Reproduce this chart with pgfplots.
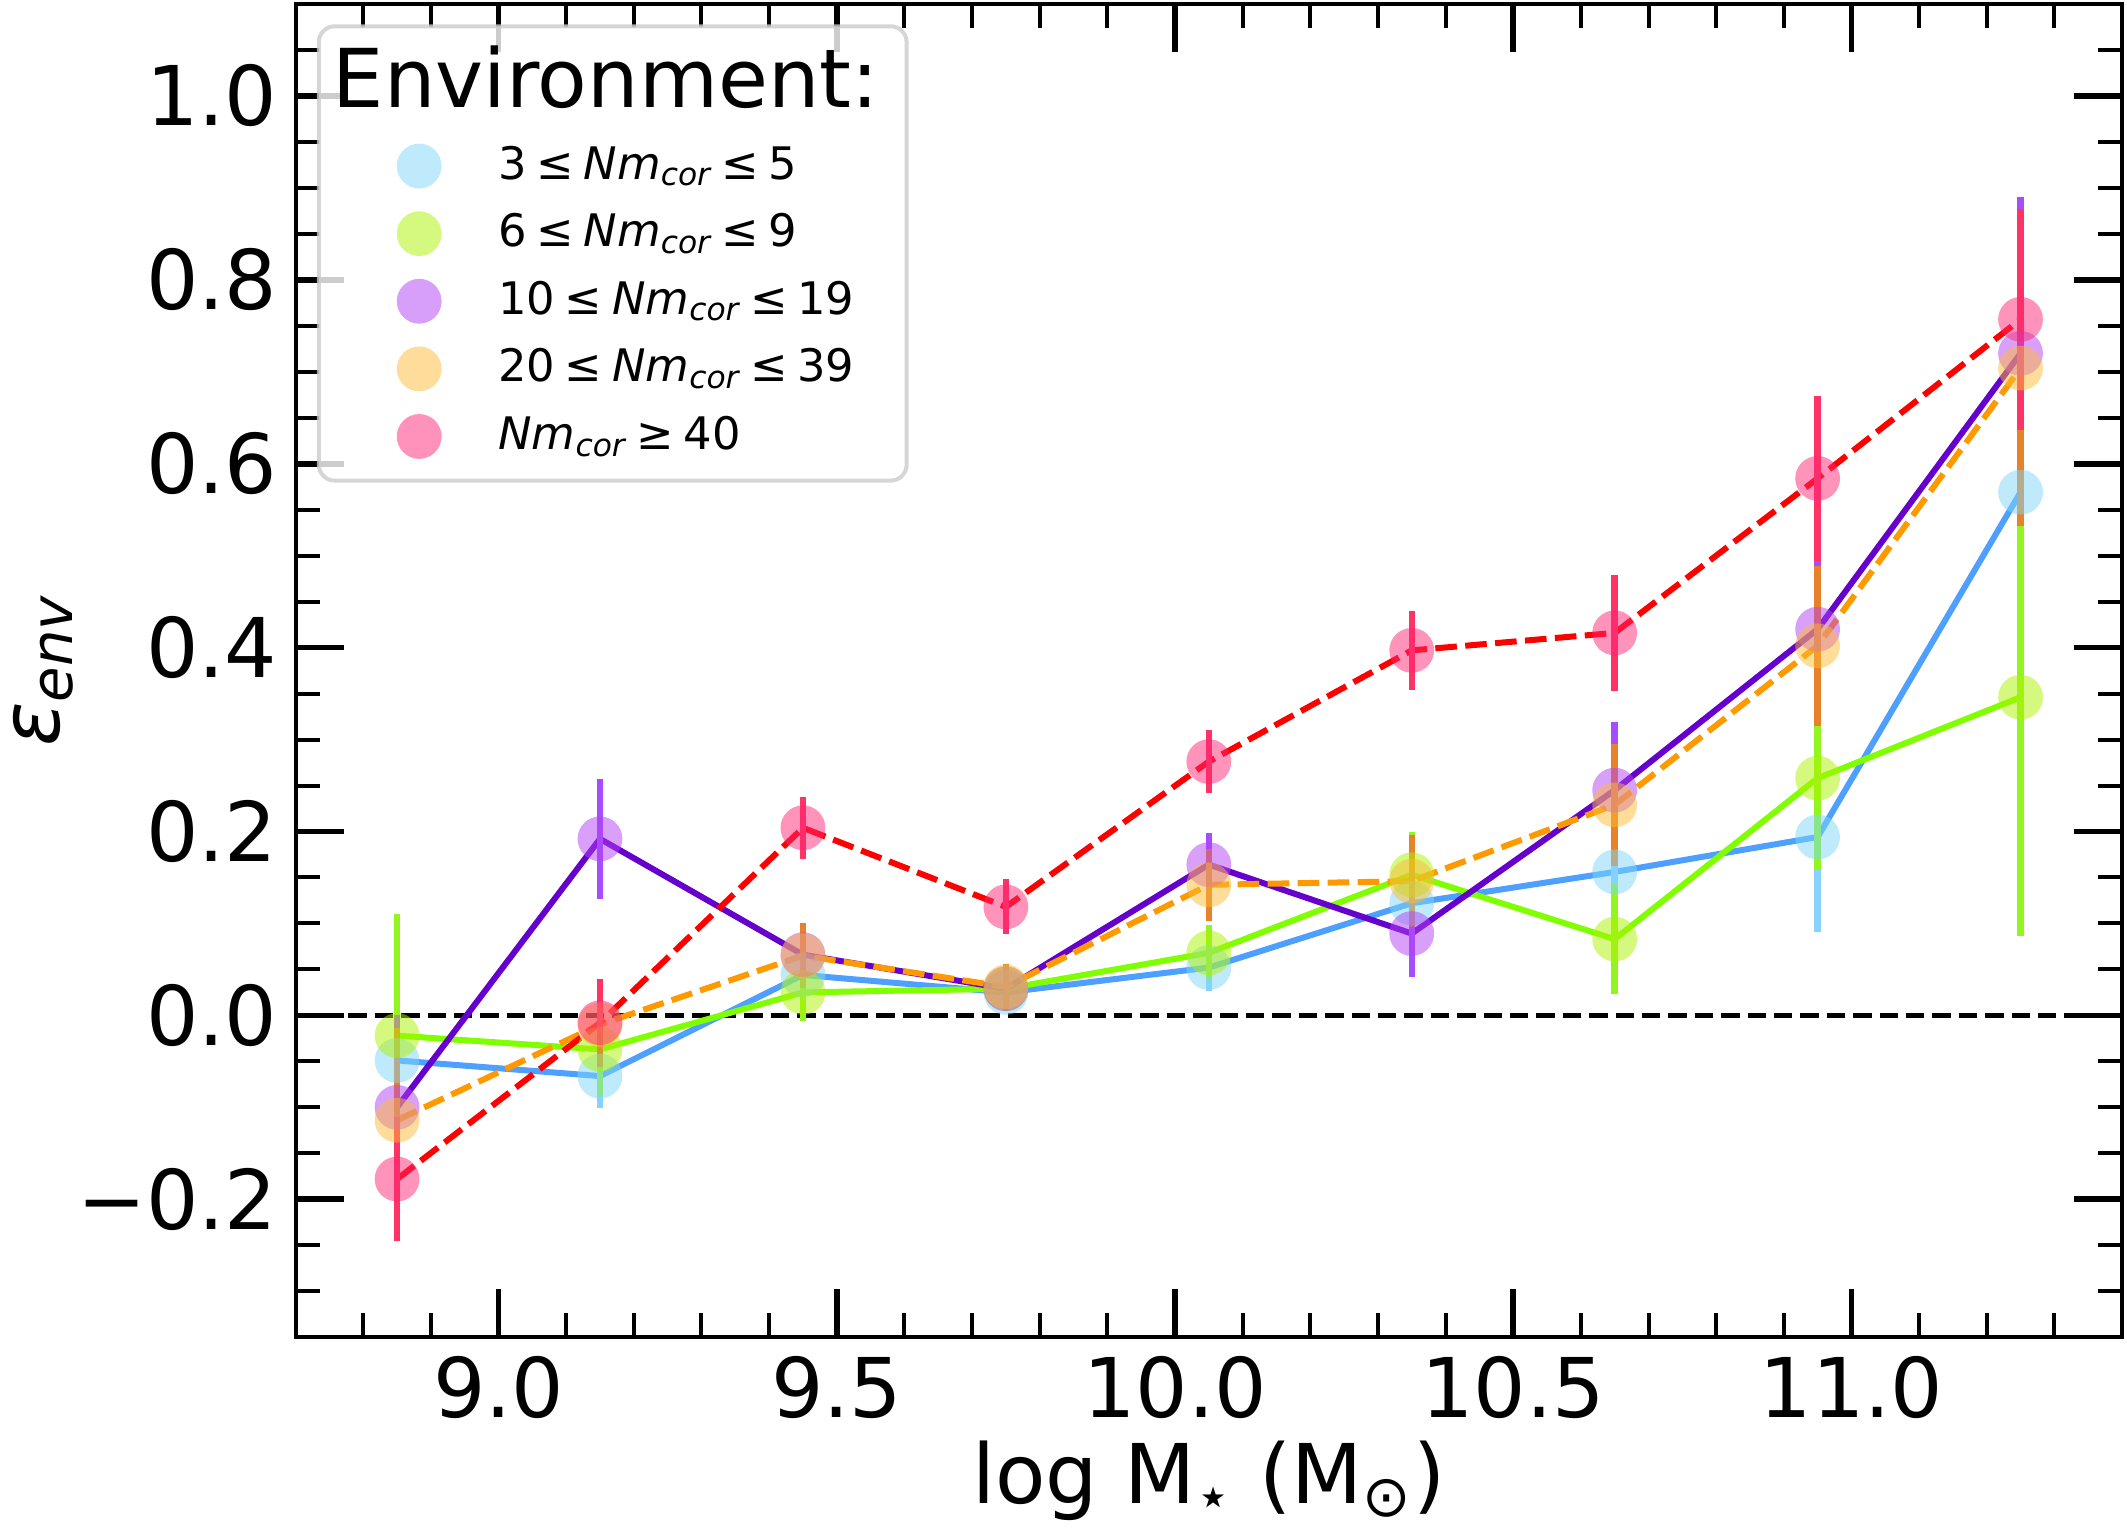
\documentclass[border=0pt]{standalone}
\usepackage{fontspec}
\setmainfont{DejaVu Sans}
\usepackage{pgfplots}
\pgfplotsset{compat=1.18}
\usepackage{pgfplotstable}

\definecolor{blueL}{HTML}{4DA0FF}
\definecolor{blueE}{HTML}{87D3FF}
\definecolor{blueM}{HTML}{7FD6F8}
\definecolor{greenL}{HTML}{80FF00}
\definecolor{greenE}{HTML}{92F520}
\definecolor{greenM}{HTML}{ACF300}
\definecolor{purpL}{HTML}{6600CC}
\definecolor{purpE}{HTML}{A64DFF}
\definecolor{purpM}{HTML}{B342F5}
\definecolor{oranL}{HTML}{FF9900}
\definecolor{oranE}{HTML}{E8822A}
\definecolor{oranM}{HTML}{FDBB35}
\definecolor{redL}{HTML}{FF0000}
\definecolor{redE}{HTML}{FF3366}
\definecolor{redM}{HTML}{FF2775}

\pgfplotstableread{
x y e
8.85 -0.049 0.086
9.15 -0.066 0.035
9.45 0.044 0.030
9.75 0.025 0.020
10.05 0.052 0.025
10.35 0.122 0.040
10.65 0.156 0.050
10.95 0.194 0.103
11.25 0.569 0.150
}\tabA
\pgfplotstableread{
x y e
8.85 -0.022 0.132
9.15 -0.037 0.050
9.45 0.025 0.031
9.75 0.029 0.020
10.05 0.068 0.030
10.35 0.153 0.046
10.65 0.083 0.060
10.95 0.258 0.100
11.25 0.346 0.260
}\tabB
\pgfplotstableread{
x y e
8.85 -0.100 0.100
9.15 0.192 0.065
9.45 0.066 0.035
9.75 0.029 0.020
10.05 0.164 0.034
10.35 0.089 0.047
10.65 0.245 0.074
10.95 0.420 0.100
11.25 0.720 0.170
}\tabC
\pgfplotstableread{
x y e
8.85 -0.114 0.100
9.15 -0.010 0.040
9.45 0.065 0.035
9.75 0.031 0.025
10.05 0.142 0.039
10.35 0.146 0.050
10.65 0.229 0.066
10.95 0.402 0.087
11.25 0.704 0.172
}\tabD
\pgfplotstableread{
x y e
8.85 -0.178 0.067
9.15 -0.008 0.048
9.45 0.204 0.034
9.75 0.118 0.030
10.05 0.276 0.034
10.35 0.397 0.043
10.65 0.416 0.063
10.95 0.584 0.090
11.25 0.757 0.120
}\tabE

\newcommand{\bigf}{\fontsize{20.6}{24}\selectfont}
\newcommand{\rs}{\hspace{2.4pt}}
\newcommand{\Nm}{{\itshape Nm}\textsubscript{\itshape cor}}

\begin{document}
\begin{tikzpicture}
\useasboundingbox (-73.9pt,-47.7pt) rectangle (457.85pt,334.3pt);
\begin{axis}[
  name=ax,
  scale only axis, width=456.6pt, height=333.3pt,
  xmin=8.7, xmax=11.4, ymin=-0.35, ymax=1.1,
  axis line style={line width=1pt, black},
  xtick={9,9.5,10,10.5,11},
  xticklabels={9.0,9.5,10.0,10.5,11.0},
  ytick={-0.2,0,0.2,0.4,0.6,0.8,1.0},
  yticklabels={−0.2,0.0,0.2,0.4,0.6,0.8,1.0},
  minor xtick={8.8,8.9,9.1,9.2,9.3,9.4,9.6,9.7,9.8,9.9,10.1,10.2,10.3,10.4,10.6,10.7,10.8,10.9,11.1,11.2,11.3},
  minor ytick={-0.3,-0.25,-0.15,-0.1,-0.05,0.05,0.1,0.15,0.25,0.3,0.35,0.45,0.5,0.55,0.65,0.7,0.75,0.85,0.9,0.95,1.05},
  tick align=inside,
  xtick pos=both, ytick pos=both,
  major tick length=12pt, minor tick length=6pt,
  major tick style={line width=1.4pt, black},
  minor tick style={line width=1pt, black},
  xticklabel style={anchor=north, inner sep=0pt, yshift=-4.6pt, font=\bigf},
  yticklabel style={anchor=east, inner sep=0pt, xshift=-4.4pt, font=\bigf},
  every axis x label/.style={at={(axis description cs:0.5,0)}, anchor=base, yshift=-41.6pt, font=\bigf},
  every axis y label/.style={at={(axis description cs:-0.1290,0.5)}, anchor=base, rotate=90, font=\bigf},
  xlabel={log M\textsubscript{⋆} (M\textsubscript{⊙})},
  ylabel={\itshape ε\textsubscript{env}},
  legend cell align=left,
  legend style={at={(0,1)}, anchor=north west, xshift=5.3pt, yshift=-5.07pt,
    draw=black!20, line width=1pt, rounded corners=4pt,
    fill=white, fill opacity=0.8, draw opacity=0.8, text opacity=1,
    inner xsep=4.5pt, inner ysep=4.8pt, row sep=4.4pt, column sep=0pt,
    nodes={inner sep=0pt, text height=9.5pt, text depth=3pt},
    font=\fontsize{11.2}{13.5}\selectfont},
  legend image code/.code={\path (-20.1pt,0pt) (19.3pt,0pt); \draw[#1] plot coordinates {(0pt,0pt)};},
  mymark/.style={only marks, mark=*, mark size=5.6pt, mark options={solid, fill=#1, fill opacity=0.5, draw opacity=0}},
]
% legend
\addlegendimage{empty legend}
\addlegendentry[font=\fontsize{20.3}{24}\selectfont, text height=15.6pt, text depth=3.9pt]{\hspace*{-41.4pt}Environment:\hspace*{2.5pt}}
\addlegendimage{mymark=blueM}
\addlegendentry{3\rs≤\rs\Nm\rs≤\rs5}
\addlegendimage{mymark=greenM}
\addlegendentry{6\rs≤\rs\Nm\rs≤\rs9}
\addlegendimage{mymark=purpM}
\addlegendentry{10\rs≤\rs\Nm\rs≤\rs19}
\addlegendimage{mymark=oranM}
\addlegendentry{20\rs≤\rs\Nm\rs≤\rs39}
\addlegendimage{mymark=redM}
\addlegendentry{\Nm\rs≥\rs40}

% zero line
\addplot[forget plot, black, line width=1.1pt, dash pattern=on 4.6pt off 2pt] coordinates {(8.7,0) (11.4,0)};

% series A
\addplot[forget plot, mymark=blueM] table[x=x,y=y] {\tabA};
\addplot[forget plot, blueL, line width=1.5pt, no marks, error bars/.cd, y dir=both, y explicit, error mark=none, error bar style={line width=1.6pt, blueE, solid}] table[x=x,y=y,y error=e] {\tabA};
% series B
\addplot[forget plot, mymark=greenM] table[x=x,y=y] {\tabB};
\addplot[forget plot, greenL, line width=1.5pt, no marks, error bars/.cd, y dir=both, y explicit, error mark=none, error bar style={line width=1.6pt, greenE, solid}] table[x=x,y=y,y error=e] {\tabB};
% series C
\addplot[forget plot, mymark=purpM] table[x=x,y=y] {\tabC};
\addplot[forget plot, purpL, line width=1.5pt, no marks, error bars/.cd, y dir=both, y explicit, error mark=none, error bar style={line width=1.6pt, purpE, solid}] table[x=x,y=y,y error=e] {\tabC};
% series D
\addplot[forget plot, mymark=oranM] table[x=x,y=y] {\tabD};
\addplot[forget plot, oranL, line width=1.5pt, dash pattern=on 5.4pt off 2.1pt, no marks, error bars/.cd, y dir=both, y explicit, error mark=none, error bar style={line width=1.6pt, oranE, solid}] table[x=x,y=y,y error=e] {\tabD};
% series E
\addplot[forget plot, mymark=redM] table[x=x,y=y] {\tabE};
\addplot[forget plot, redL, line width=1.5pt, dash pattern=on 5.4pt off 2.1pt, no marks, error bars/.cd, y dir=both, y explicit, error mark=none, error bar style={line width=1.6pt, redE, solid}] table[x=x,y=y,y error=e] {\tabE};
\end{axis}
\end{tikzpicture}
\end{document}
